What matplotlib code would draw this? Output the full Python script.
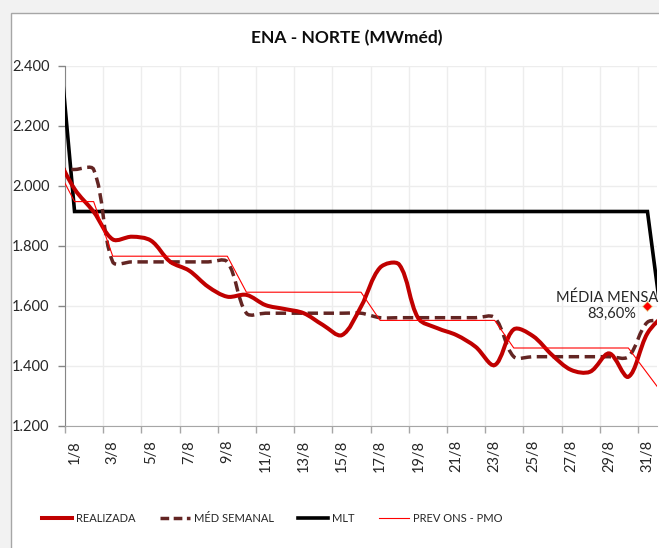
import matplotlib
matplotlib.use("Agg")
import matplotlib.pyplot as plt
from matplotlib.path import Path
from matplotlib.patches import PathPatch, Rectangle
from matplotlib.lines import Line2D
from matplotlib.ticker import FuncFormatter
import numpy as np

# day index: 0 = 31/7, 1..31 = August, 32 = 1/9
days = list(range(0, 33))

realizada = [2110, 1990, 1914, 1822, 1831, 1818, 1748, 1718, 1664, 1631,
             1637, 1603, 1590, 1576, 1537, 1503, 1598, 1728, 1738, 1559,
             1526, 1503, 1464, 1403, 1522, 1500, 1437, 1387, 1381, 1442,
             1364, 1509, 1580]

med_semanal = [2055, 2055, 2055, 1747, 1747, 1747, 1747, 1747, 1747, 1747,
               1576, 1576, 1576, 1576, 1576, 1576, 1576, 1561, 1561, 1561,
               1561, 1561, 1561, 1561, 1431, 1431, 1431, 1431, 1431, 1431,
               1431, 1546, 1546]

mlt = [2620] + [1915] * 31 + [1430]

prev_ons = [2070, 1948, 1948, 1766, 1766, 1766, 1766, 1766, 1766, 1766,
            1646, 1646, 1646, 1646, 1646, 1646, 1646, 1552, 1552, 1552,
            1552, 1552, 1552, 1552, 1460, 1460, 1460, 1460, 1460, 1460,
            1460, 1375, 1290]

media_day = 31
media_value = 1601
media_label = "MÉDIA MENSAL\n83,60%"

tick_days = list(range(1, 32, 2))
tick_labels = [f"{d}/8" for d in tick_days]

C_REAL = "#C00000"
C_SEM = "#632523"
C_PREV = "#FF0000"


def smooth_path(x, y, sx, sy):
    # Excel-like smoothed line: cubic Bezier, tangents split by segment length
    P = np.column_stack([np.asarray(x, float) * sx, np.asarray(y, float) * sy])
    n = len(P)
    c_out = np.zeros_like(P)
    c_in = np.zeros_like(P)
    for i in range(n):
        a = max(i - 1, 0)
        b = min(i + 1, n - 1)
        T = (P[b] - P[a]) / 3
        dp = np.hypot(*(P[i] - P[a]))
        dn = np.hypot(*(P[b] - P[i]))
        tot = dp + dn if dp + dn > 0 else 1
        c_out[i] = P[i] + T * dn / tot
        c_in[i] = P[i] - T * dp / tot
    verts = [P[0]]
    codes = [Path.MOVETO]
    for i in range(n - 1):
        verts += [c_out[i], c_in[i + 1], P[i + 1]]
        codes += [Path.CURVE4] * 3
    verts = np.array(verts) / [sx, sy]
    return Path(verts, codes)


plt.rcParams["font.family"] = ["Lato", "DejaVu Sans"]

W, H = 659, 548
fig = plt.figure(figsize=(W / 100, H / 100), dpi=100)
fig.patch.set_facecolor("#F2F2F2")
fig.add_artist(Rectangle((11 / W, -0.1), 1.2, (H - 13) / H + 0.1,
                         transform=fig.transFigure, facecolor="white",
                         edgecolor="#A6A6A6", lw=1, zorder=-5))

ax = fig.add_axes([65 / W, 122 / H, (657 - 65) / W, (426 - 66) / H])
ax.set_facecolor("none")
ax.set_xlim(0.5, 31.5)
ax.set_ylim(1200, 2400)

# pixels per data unit, used to smooth in screen space
sx = ax.bbox.width / 31.0
sy = ax.bbox.height / 1200.0

ax.plot(days, mlt, color="black", lw=2.6, zorder=3, solid_joinstyle="miter")
ax.add_patch(PathPatch(smooth_path(days, med_semanal, sx, sy), fill=False,
                       edgecolor=C_SEM, lw=2.5, linestyle=(0, (3, 1.6)),
                       capstyle="butt", zorder=4))
ax.add_patch(PathPatch(smooth_path(days, realizada, sx, sy), fill=False,
                       edgecolor=C_REAL, lw=2.9, zorder=5))
ax.plot(days, prev_ons, color=C_PREV, lw=0.8, zorder=6)

ax.plot([media_day], [media_value], marker="D", ms=5.5, color=C_PREV,
        mec="#E8E0A0", mew=0.6, zorder=7, clip_on=False)
ax.annotate(media_label, (media_day, media_value), xytext=(-26, 0),
            textcoords="offset points", ha="center", va="center",
            fontsize=10.5, color="#262626", annotation_clip=False,
            linespacing=1.25)

ax.set_xticks([d + 0.5 for d in range(0, 32, 2)])
ax.set_xticklabels([])
ax.set_xticks(tick_days, minor=True)
ax.set_xticklabels(tick_labels, minor=True, rotation=90, fontsize=10.5,
                   color="#262626")
ax.tick_params(axis="x", which="major", length=5, width=1,
               color="#A6A6A6", direction="out")
ax.tick_params(axis="x", which="minor", length=0, pad=10)

ax.set_yticks(range(1200, 2401, 200))
ax.yaxis.set_major_formatter(
    FuncFormatter(lambda v, p: f"{int(v):,}".replace(",", ".")))
ax.tick_params(axis="y", length=5, width=1, color="#868686", pad=6,
               labelsize=10.5, labelcolor="#262626")

ax.grid(True, which="major", color="#EDEDED", lw=1)
ax.set_axisbelow(True)
for s in ["top", "right"]:
    ax.spines[s].set_visible(False)
ax.spines["left"].set_color("#868686")
ax.spines["bottom"].set_color("#A6A6A6")

fig.text(347 / W, 1 - 38 / H, "ENA - NORTE (MWméd)", ha="center",
         va="center", fontsize=12.5, fontweight="bold", color="#0D0D0D")

handles = [
    Line2D([], [], color=C_REAL, lw=2.9),
    Line2D([], [], color=C_SEM, lw=2.5, linestyle=(0, (2.5, 1.3))),
    Line2D([], [], color="black", lw=2.6),
    Line2D([], [], color=C_PREV, lw=0.8),
]
labels = ["REALIZADA", "MÉD SEMANAL", "MLT", "PREV ONS - PMO"]
fig.legend(handles, labels, loc="center", bbox_to_anchor=(272 / W, 1 - 518 / H),
           ncol=4, frameon=False, handlelength=2.7, handletextpad=0.35,
           columnspacing=2.2, fontsize=8, labelcolor="#262626")

fig.savefig("out.png", dpi=100, facecolor=fig.get_facecolor())
